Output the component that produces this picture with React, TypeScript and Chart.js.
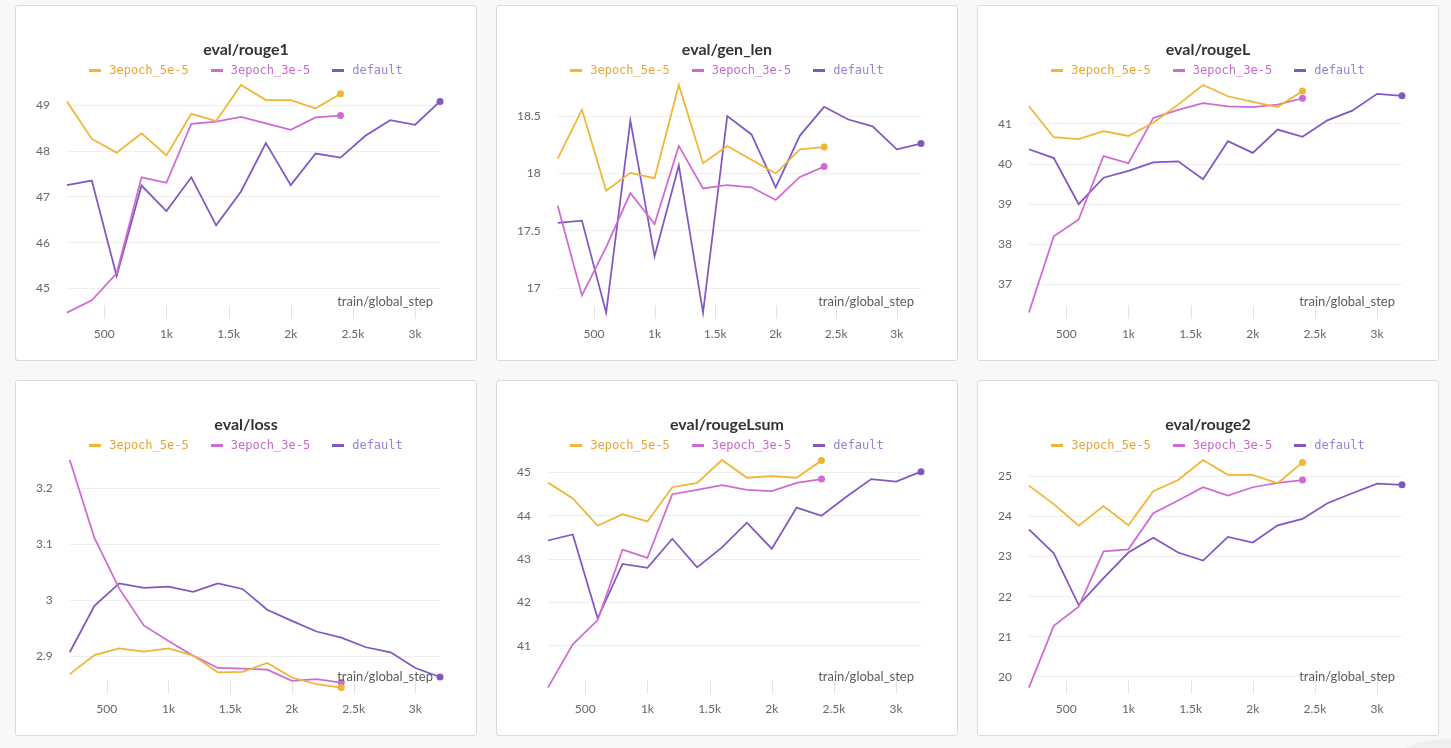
import React, { useEffect, useRef } from 'react';
import { Chart, registerables } from 'chart.js';

Chart.register(...registerables);

// ---------- data ----------
const stepsShort = [200, 400, 600, 800, 1000, 1200, 1400, 1600, 1800, 2000, 2200, 2400];
const stepsLong = [200, 400, 600, 800, 1000, 1200, 1400, 1600, 1800, 2000, 2200, 2400, 2600, 2800, 3000, 3200];
const xTickValues = [500, 1000, 1500, 2000, 2500, 3000];
const seriesNames = ['3epoch_5e-5', '3epoch_3e-5', 'default'];
const xAxisLabel = 'train/global_step';

const rouge1_5e5 = [49.09, 48.27, 47.97, 48.39, 47.91, 48.82, 48.66, 49.45, 49.12, 49.12, 48.94, 49.26];
const rouge1_3e5 = [44.47, 44.74, 45.33, 47.43, 47.31, 48.6, 48.65, 48.75, 48.61, 48.47, 48.74, 48.78];
const rouge1_default = [47.26, 47.36, 45.27, 47.25, 46.69, 47.43, 46.38, 47.12, 48.18, 47.26, 47.95, 47.86, 48.34, 48.68, 48.58, 49.09];

const genlen_5e5 = [18.13, 18.556, 17.85, 18.006, 17.96, 18.77, 18.09, 18.24, 18.12, 18.0, 18.21, 18.23];
const genlen_3e5 = [17.72, 16.94, 17.36, 17.83, 17.56, 18.24, 17.87, 17.9, 17.88, 17.77, 17.97, 18.06];
const genlen_default = [17.57, 17.59, 16.79, 18.46, 17.28, 18.07, 16.79, 18.5, 18.34, 17.88, 18.33, 18.58, 18.47, 18.41, 18.21, 18.26];

const rougeL_5e5 = [41.44, 40.67, 40.62, 40.82, 40.7, 41.03, 41.48, 41.97, 41.69, 41.55, 41.42, 41.82];
const rougeL_3e5 = [36.3, 38.2, 38.62, 40.2, 40.02, 41.15, 41.35, 41.52, 41.44, 41.42, 41.48, 41.64];
const rougeL_default = [40.37, 40.15, 39.0, 39.66, 39.83, 40.04, 40.07, 39.62, 40.57, 40.28, 40.86, 40.68, 41.09, 41.33, 41.75, 41.7];

const loss_5e5 = [2.868, 2.902, 2.914, 2.908, 2.914, 2.901, 2.871, 2.872, 2.888, 2.862, 2.85, 2.844];
const loss_3e5 = [3.25, 3.111, 3.021, 2.955, 2.927, 2.901, 2.879, 2.878, 2.876, 2.856, 2.859, 2.853];
const loss_default = [2.907, 2.99, 3.03, 3.022, 3.024, 3.015, 3.03, 3.02, 2.983, 2.963, 2.944, 2.933, 2.916, 2.907, 2.879, 2.863];

const rougeLsum_5e5 = [44.77, 44.4, 43.77, 44.04, 43.87, 44.66, 44.76, 45.29, 44.88, 44.92, 44.88, 45.28];
const rougeLsum_3e5 = [40.03, 41.03, 41.59, 43.22, 43.03, 44.5, 44.6, 44.71, 44.6, 44.57, 44.76, 44.85];
const rougeLsum_default = [43.43, 43.57, 41.63, 42.89, 42.8, 43.47, 42.81, 43.27, 43.84, 43.24, 44.19, 44.0, 44.44, 44.85, 44.79, 45.02];

const rouge2_5e5 = [24.77, 24.31, 23.77, 24.26, 23.78, 24.63, 24.91, 25.41, 25.04, 25.04, 24.83, 25.35];
const rouge2_3e5 = [19.73, 21.27, 21.75, 23.13, 23.18, 24.08, 24.4, 24.73, 24.52, 24.73, 24.84, 24.91];
const rouge2_default = [23.68, 23.08, 21.79, 22.46, 23.1, 23.47, 23.1, 22.9, 23.49, 23.35, 23.78, 23.94, 24.33, 24.58, 24.82, 24.79];

// ---------- styles ----------
const lineColors = ['#f0b533', '#d06ad3', '#8157c1'];
const textColors = ['#e9a531', '#c86acc', '#9b7fd3'];

type PanelDef = { title: string; series: number[][]; step: number };

const panels: PanelDef[] = [
  { title: 'eval/rouge1', series: [rouge1_5e5, rouge1_3e5, rouge1_default], step: 1 },
  { title: 'eval/gen_len', series: [genlen_5e5, genlen_3e5, genlen_default], step: 0.5 },
  { title: 'eval/rougeL', series: [rougeL_5e5, rougeL_3e5, rougeL_default], step: 1 },
  { title: 'eval/loss', series: [loss_5e5, loss_3e5, loss_default], step: 0.1 },
  { title: 'eval/rougeLsum', series: [rougeLsum_5e5, rougeLsum_3e5, rougeLsum_default], step: 1 },
  { title: 'eval/rouge2', series: [rouge2_5e5, rouge2_3e5, rouge2_default], step: 1 },
];

const CANVAS_W = 460;
const CANVAS_H = 354;

const xTickMarks = {
  id: 'xTickMarks',
  beforeDatasetsDraw(chart: any) {
    const { ctx, chartArea, scales } = chart;
    const x = scales.x;
    ctx.save();
    ctx.strokeStyle = '#e3e3e3';
    ctx.lineWidth = 1;
    x.ticks.forEach((t: any) => {
      const px = Math.round(x.getPixelForValue(t.value)) + 0.5;
      ctx.beginPath();
      ctx.moveTo(px, chartArea.bottom - 7);
      ctx.lineTo(px, chartArea.bottom + 6);
      ctx.stroke();
    });
    ctx.restore();
  },
};

const axisLabel = {
  id: 'axisLabel',
  afterDatasetsDraw(chart: any) {
    const { ctx, chartArea } = chart;
    ctx.save();
    ctx.font = '13px Lato';
    ctx.fillStyle = '#5b5b5b';
    ctx.textAlign = 'right';
    ctx.textBaseline = 'middle';
    ctx.fillText(xAxisLabel, chartArea.right - 7, chartArea.bottom - 11);
    ctx.restore();
  },
};

function fmt(v: number) {
  return String(Number(v.toFixed(3)));
}

function Panel({ def, left, top }: { def: PanelDef; left: number; top: number }) {
  const ref = useRef<HTMLCanvasElement | null>(null);

  useEffect(() => {
    if (!ref.current) return;
    const all = def.series.flat();
    const yMin = Math.min(...all);
    const yMax = Math.max(...all);
    const step = def.step;
    const datasets = def.series.map((s, i) => {
      const steps = s.length === stepsLong.length ? stepsLong : stepsShort;
      const n = s.length;
      return {
        label: seriesNames[i],
        data: steps.map((x, j) => ({ x, y: s[j] })),
        borderColor: lineColors[i],
        backgroundColor: lineColors[i],
        pointBackgroundColor: lineColors[i],
        borderWidth: 1.75,
        pointRadius: s.map((_, j) => (j === n - 1 ? 3.5 : 0)),
        pointBorderWidth: 0,
        pointHoverRadius: 0,
        tension: 0,
        clip: false as any,
      };
    });
    const chart = new Chart(ref.current, {
      type: 'line',
      data: { datasets },
      options: {
        animation: false,
        responsive: false,
        maintainAspectRatio: false,
        events: [],
        layout: { padding: { left: 3, right: 36, top: 79, bottom: 5 } },
        plugins: {
          legend: { display: false },
          title: { display: false },
          tooltip: { enabled: false },
        },
        scales: {
          x: {
            type: 'linear',
            min: stepsLong[0],
            max: stepsLong[stepsLong.length - 1],
            grid: { display: false, drawTicks: false, tickLength: 0 },
            border: { display: false },
            ticks: {
              padding: 14,
              color: '#666',
              font: { family: 'Lato', size: 12 },
              callback: (v: any) => (v >= 1000 ? `${v / 1000}k` : String(v)),
            },
            afterBuildTicks: (scale: any) => {
              scale.ticks = xTickValues.map((v) => ({ value: v }));
            },
          },
          y: {
            type: 'linear',
            min: yMin,
            max: yMax,
            grid: { color: '#eeeeee', lineWidth: 1, drawTicks: false, tickLength: 0 },
            border: { display: false },
            ticks: {
              padding: 17,
              color: '#666',
              font: { family: 'Lato', size: 12 },
              callback: (v: any) => fmt(Number(v)),
            },
            afterBuildTicks: (scale: any) => {
              const ticks: { value: number }[] = [];
              const start = Math.ceil(yMin / step - 1e-9);
              for (let k = start; k * step <= yMax + 1e-9; k++) {
                ticks.push({ value: Number((k * step).toFixed(6)) });
              }
              scale.ticks = ticks;
            },
          },
        },
      },
      plugins: [xTickMarks, axisLabel],
    });
    return () => chart.destroy();
  }, [def]);

  return (
    <div
      style={{
        position: 'absolute',
        left,
        top,
        width: 462,
        height: 356,
        boxSizing: 'border-box',
        border: '1px solid #dadada',
        borderRadius: 3,
        background: '#ffffff',
      }}
    >
      <canvas
        ref={ref}
        width={CANVAS_W}
        height={CANVAS_H}
        style={{ position: 'absolute', left: 0, top: 0, width: CANVAS_W, height: CANVAS_H }}
      />
      <div
        style={{
          position: 'absolute',
          left: 0,
          right: 0,
          top: 33,
          height: 20,
          lineHeight: '20px',
          textAlign: 'center',
          fontFamily: 'Lato',
          fontWeight: 700,
          fontSize: 16,
          color: '#333333',
        }}
      >
        {def.title}
      </div>
      <div
        style={{
          position: 'absolute',
          left: 0,
          right: 0,
          top: 56,
          height: 16,
          display: 'flex',
          justifyContent: 'center',
          alignItems: 'center',
          gap: 22,
        }}
      >
        {seriesNames.map((name, i) => (
          <div key={name} style={{ display: 'flex', alignItems: 'center' }}>
            <span
              style={{
                display: 'inline-block',
                width: 12,
                height: 3,
                background: lineColors[i],
                marginRight: 8,
              }}
            />
            <span
              style={{
                fontFamily: '"DejaVu Sans Mono", monospace',
                fontSize: 12,
                lineHeight: '16px',
                color: textColors[i],
              }}
            >
              {name}
            </span>
          </div>
        ))}
      </div>
    </div>
  );
}

export default function App() {
  return (
    <div
      style={{
        position: 'fixed',
        left: 0,
        top: 0,
        width: 1451,
        height: 748,
        background: '#f8f8f8',
        overflow: 'hidden',
      }}
    >
      <div
        style={{
          position: 'absolute',
          left: 1345,
          top: 739,
          width: 200,
          height: 200,
          borderRadius: '50%',
          background: '#efefef',
        }}
      />
      {panels.map((p, i) => (
        <Panel key={p.title} def={p} left={15 + (i % 3) * 481} top={5 + Math.floor(i / 3) * 375} />
      ))}
    </div>
  );
}
